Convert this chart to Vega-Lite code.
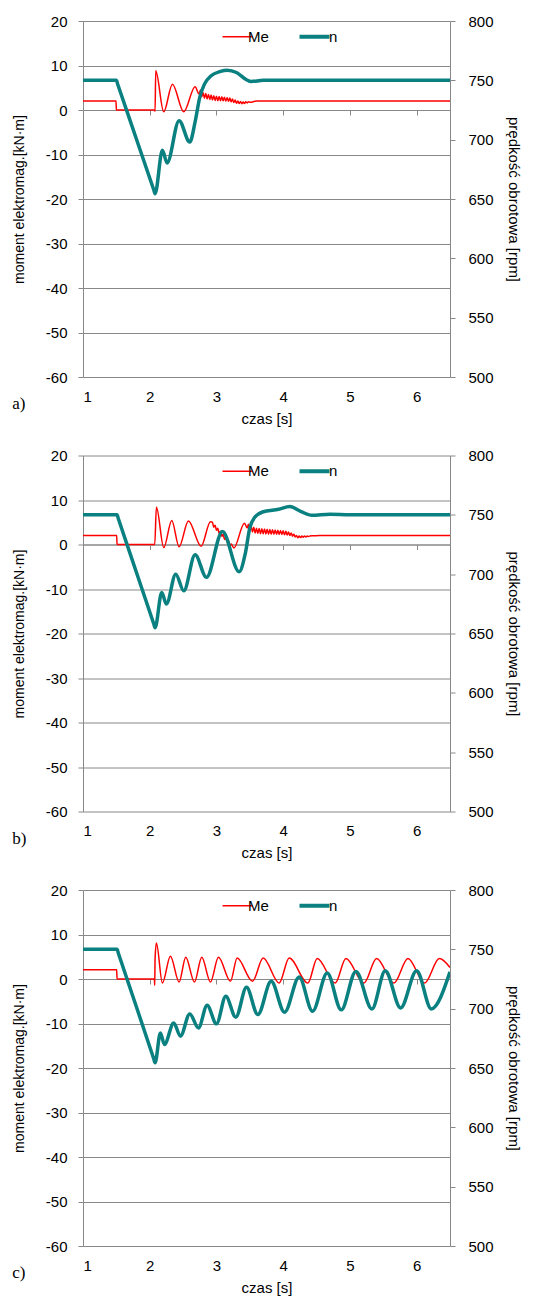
{
"$schema": "https://vega.github.io/schema/vega-lite/v6.json",
"padding": {"left": 12, "top": 14, "right": 4, "bottom": 4},
"background": "white",
"config": {"font": "Liberation Sans", "view": {"stroke": null}},
"spacing": 22.5,
"resolve": {"scale": {"color": "independent"}, "legend": {"color": "independent"}},
"datasets": {
"me": [
{"p":"a","t":1.0,"Me":2.0},{"p":"a","t":1.495,"Me":2.0},{"p":"a","t":1.5,"Me":0},{"p":"a","t":2.075,"Me":0},{"p":"a","t":2.08,"Me":-0.3},{"p":"a","t":2.09,"Me":8.8},{"p":"a","t":2.21,"Me":-0.4},{"p":"a","t":2.34,"Me":5.8},{"p":"a","t":2.51,"Me":-0.4},{"p":"a","t":2.68,"Me":5.2},
{"p":"a","t":2.74,"Me":3.6},{"p":"a","t":2.76,"Me":4.5},{"p":"a","t":2.78,"Me":3.0},{"p":"a","t":2.80,"Me":3.9},{"p":"a","t":2.82,"Me":2.65},{"p":"a","t":2.84,"Me":3.7},{"p":"a","t":2.86,"Me":2.5},{"p":"a","t":2.88,"Me":3.5},{"p":"a","t":2.90,"Me":2.35},{"p":"a","t":2.92,"Me":3.37},{"p":"a","t":2.94,"Me":2.26},{"p":"a","t":2.96,"Me":3.23},{"p":"a","t":2.98,"Me":2.16},{"p":"a","t":3.00,"Me":3.1},{"p":"a","t":3.02,"Me":2.09},{"p":"a","t":3.04,"Me":3.04},{"p":"a","t":3.06,"Me":2.06},{"p":"a","t":3.08,"Me":2.99},{"p":"a","t":3.10,"Me":2.07},{"p":"a","t":3.12,"Me":2.88},{"p":"a","t":3.14,"Me":2.01},{"p":"a","t":3.16,"Me":2.78},{"p":"a","t":3.18,"Me":1.96},{"p":"a","t":3.20,"Me":2.67},{"p":"a","t":3.22,"Me":1.84},{"p":"a","t":3.24,"Me":2.45},{"p":"a","t":3.26,"Me":1.67},{"p":"a","t":3.28,"Me":2.22},{"p":"a","t":3.30,"Me":1.5},{"p":"a","t":3.32,"Me":2.04},{"p":"a","t":3.34,"Me":1.45},{"p":"a","t":3.36,"Me":1.93},{"p":"a","t":3.38,"Me":1.41},{"p":"a","t":3.40,"Me":1.8},{"p":"a","t":3.42,"Me":1.46},{"p":"a","t":3.44,"Me":1.83},{"p":"a","t":3.46,"Me":1.6},{"p":"a","t":3.48,"Me":1.86},{"p":"a","t":3.50,"Me":1.75},{"p":"a","t":3.6,"Me":2.0},{"p":"a","t":6.5,"Me":2.0},
{"p":"b","t":1.0,"Me":2.0},{"p":"b","t":1.505,"Me":2.0},{"p":"b","t":1.51,"Me":0},{"p":"b","t":2.075,"Me":0},{"p":"b","t":2.10,"Me":8.4},{"p":"b","t":2.21,"Me":-0.7},{"p":"b","t":2.33,"Me":5.4},{"p":"b","t":2.44,"Me":-0.5},{"p":"b","t":2.58,"Me":5.3},{"p":"b","t":2.77,"Me":-0.4},{"p":"b","t":2.91,"Me":5.1},
{"p":"b","t":2.94,"Me":5.0},{"p":"b","t":2.96,"Me":3.86},{"p":"b","t":2.98,"Me":4.32},{"p":"b","t":3.00,"Me":3.18},{"p":"b","t":3.02,"Me":3.64},{"p":"b","t":3.04,"Me":2.5},{"p":"b","t":3.06,"Me":2.96},{"p":"b","t":3.08,"Me":1.82},{"p":"b","t":3.10,"Me":2.28},{"p":"b","t":3.12,"Me":1.14},{"p":"b","t":3.14,"Me":1.6},{"p":"b","t":3.16,"Me":0.46},{"p":"b","t":3.18,"Me":0.92},{"p":"b","t":3.20,"Me":-0.22},{"p":"b","t":3.22,"Me":0.1},{"p":"b","t":3.26,"Me":-0.8},{"p":"b","t":3.42,"Me":4.8},
{"p":"b","t":3.46,"Me":3.7},{"p":"b","t":3.48,"Me":4.55},{"p":"b","t":3.50,"Me":3.0},{"p":"b","t":3.52,"Me":4.08},{"p":"b","t":3.54,"Me":2.79},{"p":"b","t":3.56,"Me":3.86},{"p":"b","t":3.58,"Me":2.57},{"p":"b","t":3.60,"Me":3.67},{"p":"b","t":3.62,"Me":2.49},{"p":"b","t":3.64,"Me":3.62},{"p":"b","t":3.66,"Me":2.44},{"p":"b","t":3.68,"Me":3.56},{"p":"b","t":3.70,"Me":2.40},{"p":"b","t":3.72,"Me":3.5},{"p":"b","t":3.74,"Me":2.36},{"p":"b","t":3.76,"Me":3.44},{"p":"b","t":3.78,"Me":2.33},{"p":"b","t":3.80,"Me":3.39},{"p":"b","t":3.82,"Me":2.32},{"p":"b","t":3.84,"Me":3.33},{"p":"b","t":3.86,"Me":2.3},{"p":"b","t":3.88,"Me":3.27},{"p":"b","t":3.90,"Me":2.3},{"p":"b","t":3.92,"Me":3.21},{"p":"b","t":3.94,"Me":2.28},{"p":"b","t":3.96,"Me":3.17},{"p":"b","t":3.98,"Me":2.25},{"p":"b","t":4.00,"Me":3.08},{"p":"b","t":4.02,"Me":2.18},{"p":"b","t":4.04,"Me":2.95},{"p":"b","t":4.06,"Me":2.12},{"p":"b","t":4.08,"Me":2.81},{"p":"b","t":4.10,"Me":2.05},{"p":"b","t":4.12,"Me":2.6},{"p":"b","t":4.14,"Me":1.87},{"p":"b","t":4.16,"Me":2.32},{"p":"b","t":4.18,"Me":1.7},{"p":"b","t":4.20,"Me":2.03},{"p":"b","t":4.22,"Me":1.5},{"p":"b","t":4.24,"Me":1.9},{"p":"b","t":4.26,"Me":1.55},{"p":"b","t":4.28,"Me":1.92},{"p":"b","t":4.30,"Me":1.62},{"p":"b","t":4.32,"Me":1.92},{"p":"b","t":4.34,"Me":1.7},{"p":"b","t":4.36,"Me":1.9},{"p":"b","t":4.38,"Me":1.78},{"p":"b","t":4.40,"Me":1.93},{"p":"b","t":4.45,"Me":1.95},{"p":"b","t":4.55,"Me":2.0},{"p":"b","t":6.5,"Me":2.0},
{"p":"c","t":1.0,"Me":2.1},{"p":"c","t":1.505,"Me":2.1},{"p":"c","t":1.51,"Me":0},{"p":"c","t":2.07,"Me":0},{"p":"c","t":2.075,"Me":-1.4},{"p":"c","t":2.08,"Me":4.5},{"p":"c","t":2.10,"Me":8.1},{"p":"c","t":2.19,"Me":-0.9},{"p":"c","t":2.31,"Me":5.1},{"p":"c","t":2.44,"Me":-0.7},{"p":"c","t":2.54,"Me":4.9},{"p":"c","t":2.67,"Me":-0.7},{"p":"c","t":2.78,"Me":4.9},{"p":"c","t":2.91,"Me":-0.7},{"p":"c","t":3.03,"Me":4.9},{"p":"c","t":3.21,"Me":-0.5},{"p":"c","t":3.31,"Me":4.7},{"p":"c","t":3.54,"Me":-0.5},{"p":"c","t":3.70,"Me":4.7},{"p":"c","t":3.94,"Me":-0.9},{"p":"c","t":4.09,"Me":4.7},{"p":"c","t":4.37,"Me":-0.9},{"p":"c","t":4.51,"Me":4.6},{"p":"c","t":4.78,"Me":-0.9},{"p":"c","t":4.94,"Me":4.6},{"p":"c","t":5.21,"Me":-0.9},{"p":"c","t":5.40,"Me":4.6},{"p":"c","t":5.66,"Me":-0.9},{"p":"c","t":5.87,"Me":4.6},{"p":"c","t":6.12,"Me":-0.9},{"p":"c","t":6.34,"Me":4.6},{"p":"c","t":6.5,"Me":2.6}
],
"n": [
{"p":"a","t":1.0,"n":750},{"p":"a","t":1.5,"n":750},{"p":"a","t":1.52,"n":746.7},{"p":"a","t":1.8,"n":700.6},{"p":"a","t":2.06,"n":657.8},{"p":"a","t":2.08,"n":654.5},{"p":"a","t":2.19,"n":691},{"p":"a","t":2.26,"n":680.4},{"p":"a","t":2.44,"n":716},{"p":"a","t":2.60,"n":698},{"p":"a","t":2.68,"n":715},{"p":"a","t":2.75,"n":735.6},{"p":"a","t":2.82,"n":746.8},{"p":"a","t":2.92,"n":753.8},{"p":"a","t":3.06,"n":757.5},{"p":"a","t":3.16,"n":758.6},{"p":"a","t":3.30,"n":756.6},{"p":"a","t":3.45,"n":750.5},{"p":"a","t":3.52,"n":749},{"p":"a","t":3.7,"n":750},{"p":"a","t":6.5,"n":750},
{"p":"b","t":1.0,"n":750},{"p":"b","t":1.51,"n":750},{"p":"b","t":1.53,"n":746.7},{"p":"b","t":1.8,"n":701.6},{"p":"b","t":2.06,"n":658.2},{"p":"b","t":2.08,"n":654.8},{"p":"b","t":2.18,"n":684.6},{"p":"b","t":2.25,"n":674.8},{"p":"b","t":2.39,"n":700},{"p":"b","t":2.51,"n":686},{"p":"b","t":2.68,"n":716.3},{"p":"b","t":2.85,"n":697.3},{"p":"b","t":3.09,"n":736},{"p":"b","t":3.34,"n":702},{"p":"b","t":3.43,"n":716.8},{"p":"b","t":3.50,"n":739},{"p":"b","t":3.57,"n":747.7},{"p":"b","t":3.69,"n":752.4},{"p":"b","t":3.93,"n":754.7},{"p":"b","t":4.10,"n":757},{"p":"b","t":4.26,"n":753},{"p":"b","t":4.43,"n":749.6},{"p":"b","t":4.70,"n":750.5},{"p":"b","t":5.0,"n":750},{"p":"b","t":6.5,"n":750},
{"p":"c","t":1.0,"n":750},{"p":"c","t":1.51,"n":750},{"p":"c","t":1.53,"n":746.7},{"p":"c","t":1.8,"n":701.6},{"p":"c","t":2.06,"n":657.8},{"p":"c","t":2.08,"n":654.4},{"p":"c","t":2.16,"n":679.6},{"p":"c","t":2.22,"n":669.8},{"p":"c","t":2.36,"n":688},{"p":"c","t":2.46,"n":676.8},{"p":"c","t":2.60,"n":695.6},{"p":"c","t":2.73,"n":683.8},{"p":"c","t":2.86,"n":702.9},{"p":"c","t":3.00,"n":687.2},{"p":"c","t":3.14,"n":710.4},{"p":"c","t":3.29,"n":692.8},{"p":"c","t":3.45,"n":718},{"p":"c","t":3.62,"n":695},{"p":"c","t":3.82,"n":723},{"p":"c","t":4.02,"n":697},{"p":"c","t":4.24,"n":726.7},{"p":"c","t":4.44,"n":697.8},{"p":"c","t":4.66,"n":730},{"p":"c","t":4.87,"n":699},{"p":"c","t":5.09,"n":731.4},{"p":"c","t":5.33,"n":699.8},{"p":"c","t":5.53,"n":732},{"p":"c","t":5.76,"n":700.6},{"p":"c","t":6.0,"n":732},{"p":"c","t":6.22,"n":699.8},{"p":"c","t":6.5,"n":731}
]
},
"vconcat": [
{
"title": {"text": "a)", "orient": "bottom", "anchor": "start", "frame": "bounds", "font": "Liberation Serif", "fontSize": 17, "fontWeight": "normal", "offset": -30},
"width": 367, "height": 356,
"resolve": {"scale": {"y": "independent"}, "axis": {"x": "independent"}},
"layer": [
{"data": {"name": "me"}, "transform": [{"filter": "datum.p === 'a'"}],
 "mark": {"type": "line", "strokeWidth": 1.5, "interpolate": "monotone", "clip": true},
 "encoding": {
  "x": {"field": "t", "type": "quantitative", "scale": {"domain": [1, 6.5], "nice": false, "zero": false}, "axis": {"orient": "bottom", "offset": -267, "labels": false, "ticks": true, "tickSize": 5, "tickColor": "#888888", "domain": true, "domainColor": "#888888", "grid": false, "title": null, "values": [1,2,3,4,5,6]}},
  "y": {"field": "Me", "type": "quantitative", "scale": {"domain": [-60, 20], "nice": false}, "axis": {"orient": "left", "values": [-60,-50,-40,-30,-20,-10,0,10,20], "grid": true, "gridColor": "#888888", "gridOpacity": 1, "domainColor": "#888888", "tickColor": "#888888", "tickSize": 5, "labelFontSize": 15, "labelColor": "black", "labelPadding": 11, "labelExpr": "datum.value", "title": "moment elektromag.[kN·m]", "titleFontSize": 14, "titleFontWeight": "normal", "titleColor": "black", "titlePadding": 19}},
  "color": {"datum": "Me", "scale": {"domain": ["Me", "n"], "range": ["#ff0000", "#0a8080"]}, "legend": {"orient": "none", "legendX": 147, "legendY": 8, "direction": "horizontal", "title": null, "symbolType": "stroke", "symbolSize": 900, "symbolStrokeWidth": 4, "labelFontSize": 15, "labelColor": "black", "labelOffset": 3, "columnPadding": 22, "padding": 0, "encode": {"symbols": {"update": {"strokeWidth": {"signal": "datum.value === 'n' ? 4 : 1.5"}}}, "labels": {"update": {"dx": {"signal": "datum.value === 'n' ? 4 : 0"}}}}}}
 }},
{"data": {"name": "n"}, "transform": [{"filter": "datum.p === 'a'"}],
 "mark": {"type": "line", "strokeWidth": 3.5, "interpolate": "monotone", "clip": true},
 "encoding": {
  "x": {"field": "t", "type": "quantitative", "axis": {"orient": "bottom", "domain": false, "ticks": false, "labelFontSize": 15, "labelColor": "black", "labelPadding": 12, "values": [1,2,3,4,5,6], "grid": false, "title": "czas [s]", "titleFontSize": 15, "titleFontWeight": "normal", "titleColor": "black", "titlePadding": 7}},
  "y": {"field": "n", "type": "quantitative", "scale": {"domain": [500, 800], "nice": false, "zero": false}, "axis": {"orient": "right", "values": [500,550,600,650,700,750,800], "grid": false, "domainColor": "#888888", "tickColor": "#888888", "tickSize": 5, "labelFontSize": 15, "labelColor": "black", "labelPadding": 13, "title": "prędkość obrotowa [rpm]", "titleFontSize": 15, "titleFontWeight": "normal", "titleColor": "black", "titlePadding": 12}},
  "color": {"datum": "n"}
 }}
]
},
{
"title": {"text": "b)", "orient": "bottom", "anchor": "start", "frame": "bounds", "font": "Liberation Serif", "fontSize": 17, "fontWeight": "normal", "offset": -30},
"width": 367, "height": 356,
"resolve": {"scale": {"y": "independent"}, "axis": {"x": "independent"}},
"layer": [
{"data": {"name": "me"}, "transform": [{"filter": "datum.p === 'b'"}],
 "mark": {"type": "line", "strokeWidth": 1.5, "interpolate": "monotone", "clip": true},
 "encoding": {
  "x": {"field": "t", "type": "quantitative", "scale": {"domain": [1, 6.5], "nice": false, "zero": false}, "axis": {"orient": "bottom", "offset": -267, "labels": false, "ticks": true, "tickSize": 5, "tickColor": "#888888", "domain": true, "domainColor": "#888888", "grid": false, "title": null, "values": [1,2,3,4,5,6]}},
  "y": {"field": "Me", "type": "quantitative", "scale": {"domain": [-60, 20], "nice": false}, "axis": {"orient": "left", "values": [-60,-50,-40,-30,-20,-10,0,10,20], "grid": true, "gridColor": "#888888", "gridOpacity": 1, "domainColor": "#888888", "tickColor": "#888888", "tickSize": 5, "labelFontSize": 15, "labelColor": "black", "labelPadding": 11, "labelExpr": "datum.value", "title": "moment elektromag.[kN·m]", "titleFontSize": 14, "titleFontWeight": "normal", "titleColor": "black", "titlePadding": 19}},
  "color": {"datum": "Me", "scale": {"domain": ["Me", "n"], "range": ["#ff0000", "#0a8080"]}, "legend": {"orient": "none", "legendX": 147, "legendY": 8, "direction": "horizontal", "title": null, "symbolType": "stroke", "symbolSize": 900, "symbolStrokeWidth": 4, "labelFontSize": 15, "labelColor": "black", "labelOffset": 3, "columnPadding": 22, "padding": 0, "encode": {"symbols": {"update": {"strokeWidth": {"signal": "datum.value === 'n' ? 4 : 1.5"}}}, "labels": {"update": {"dx": {"signal": "datum.value === 'n' ? 4 : 0"}}}}}}
 }},
{"data": {"name": "n"}, "transform": [{"filter": "datum.p === 'b'"}],
 "mark": {"type": "line", "strokeWidth": 3.5, "interpolate": "monotone", "clip": true},
 "encoding": {
  "x": {"field": "t", "type": "quantitative", "axis": {"orient": "bottom", "domain": false, "ticks": false, "labelFontSize": 15, "labelColor": "black", "labelPadding": 12, "values": [1,2,3,4,5,6], "grid": false, "title": "czas [s]", "titleFontSize": 15, "titleFontWeight": "normal", "titleColor": "black", "titlePadding": 7}},
  "y": {"field": "n", "type": "quantitative", "scale": {"domain": [500, 800], "nice": false, "zero": false}, "axis": {"orient": "right", "values": [500,550,600,650,700,750,800], "grid": false, "domainColor": "#888888", "tickColor": "#888888", "tickSize": 5, "labelFontSize": 15, "labelColor": "black", "labelPadding": 13, "title": "prędkość obrotowa [rpm]", "titleFontSize": 15, "titleFontWeight": "normal", "titleColor": "black", "titlePadding": 12}},
  "color": {"datum": "n"}
 }}
]
},
{
"title": {"text": "c)", "orient": "bottom", "anchor": "start", "frame": "bounds", "font": "Liberation Serif", "fontSize": 17, "fontWeight": "normal", "offset": -30},
"width": 367, "height": 356,
"resolve": {"scale": {"y": "independent"}, "axis": {"x": "independent"}},
"layer": [
{"data": {"name": "me"}, "transform": [{"filter": "datum.p === 'c'"}],
 "mark": {"type": "line", "strokeWidth": 1.5, "interpolate": "monotone", "clip": true},
 "encoding": {
  "x": {"field": "t", "type": "quantitative", "scale": {"domain": [1, 6.5], "nice": false, "zero": false}, "axis": {"orient": "bottom", "offset": -267, "labels": false, "ticks": true, "tickSize": 5, "tickColor": "#888888", "domain": true, "domainColor": "#888888", "grid": false, "title": null, "values": [1,2,3,4,5,6]}},
  "y": {"field": "Me", "type": "quantitative", "scale": {"domain": [-60, 20], "nice": false}, "axis": {"orient": "left", "values": [-60,-50,-40,-30,-20,-10,0,10,20], "grid": true, "gridColor": "#888888", "gridOpacity": 1, "domainColor": "#888888", "tickColor": "#888888", "tickSize": 5, "labelFontSize": 15, "labelColor": "black", "labelPadding": 11, "labelExpr": "datum.value", "title": "moment elektromag.[kN·m]", "titleFontSize": 14, "titleFontWeight": "normal", "titleColor": "black", "titlePadding": 19}},
  "color": {"datum": "Me", "scale": {"domain": ["Me", "n"], "range": ["#ff0000", "#0a8080"]}, "legend": {"orient": "none", "legendX": 147, "legendY": 8, "direction": "horizontal", "title": null, "symbolType": "stroke", "symbolSize": 900, "symbolStrokeWidth": 4, "labelFontSize": 15, "labelColor": "black", "labelOffset": 3, "columnPadding": 22, "padding": 0, "encode": {"symbols": {"update": {"strokeWidth": {"signal": "datum.value === 'n' ? 4 : 1.5"}}}, "labels": {"update": {"dx": {"signal": "datum.value === 'n' ? 4 : 0"}}}}}}
 }},
{"data": {"name": "n"}, "transform": [{"filter": "datum.p === 'c'"}],
 "mark": {"type": "line", "strokeWidth": 3.5, "interpolate": "monotone", "clip": true},
 "encoding": {
  "x": {"field": "t", "type": "quantitative", "axis": {"orient": "bottom", "domain": false, "ticks": false, "labelFontSize": 15, "labelColor": "black", "labelPadding": 12, "values": [1,2,3,4,5,6], "grid": false, "title": "czas [s]", "titleFontSize": 15, "titleFontWeight": "normal", "titleColor": "black", "titlePadding": 7}},
  "y": {"field": "n", "type": "quantitative", "scale": {"domain": [500, 800], "nice": false, "zero": false}, "axis": {"orient": "right", "values": [500,550,600,650,700,750,800], "grid": false, "domainColor": "#888888", "tickColor": "#888888", "tickSize": 5, "labelFontSize": 15, "labelColor": "black", "labelPadding": 13, "title": "prędkość obrotowa [rpm]", "titleFontSize": 15, "titleFontWeight": "normal", "titleColor": "black", "titlePadding": 12}},
  "color": {"datum": "n"}
 }}
]
}
]
}
